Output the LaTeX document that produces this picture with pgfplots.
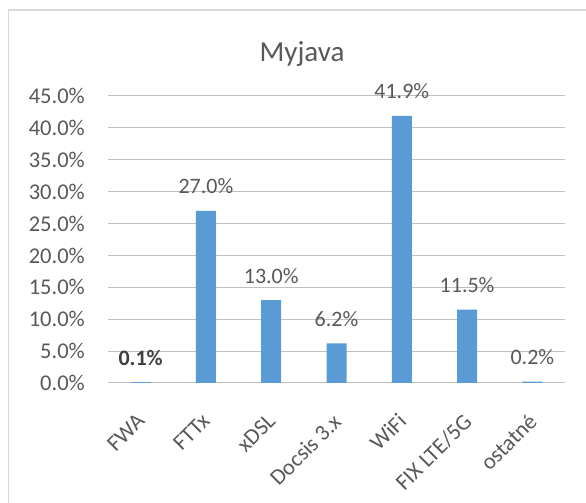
\documentclass[border=0pt]{standalone}
\usepackage{pgfplots}
\pgfplotsset{compat=1.18}
\usepackage{fontspec}
\setmainfont{Carlito}
\definecolor{txt}{HTML}{595959}
\definecolor{bar}{HTML}{5B9BD5}
\definecolor{grid}{HTML}{D9D9D9}
\definecolor{frame}{HTML}{D9D9D9}
\begin{document}
\begin{tikzpicture}[x=1pt,y=1pt]
\useasboundingbox (0,0) rectangle (586,503);
\fill[white] (0,0) rectangle (586,503);
\draw[frame, line width=1.2pt] (8.5,0) -- (8.5,493) -- (586,493);
\node[txt, font=\fontsize{29}{34}\selectfont, anchor=base] at (302,441) {Myjava};
\begin{axis}[
  at={(108pt,120pt)}, anchor=south west,
  scale only axis, width=457pt, height=287pt,
  xmin=-0.5, xmax=6.5, ymin=0, ymax=45,
  ytick={0,5,...,45},
  xtick={0,...,6},
  xticklabels={FWA,FTTx,xDSL,Docsis 3.x,WiFi,FIX LTE/5G,ostatné},
  /pgf/number format/assume math mode=true,
  yticklabel={\pgfmathprintnumber[fixed,fixed zerofill,precision=1]{\tick}\%},
  yticklabel style={inner sep=0pt, anchor=east, xshift=-23pt},
  xticklabel style={xshift=-5pt, yshift=-29pt, rotate=45, anchor=north east, inner sep=0pt},
  ticklabel style={font=\fontsize{22.5}{26}\selectfont, text=txt},
  major tick length=0pt,
  tick style={draw=none},
  ymajorgrids, xmajorgrids=false, grid style={grid, line width=1pt},
  axis line style={draw=none},
  every node near coord/.append style={font=\fontsize{22}{26}\selectfont, text=txt, anchor=base, yshift=17pt, inner sep=0pt},
  nodes near coords={\pgfmathprintnumber[fixed,fixed zerofill,precision=1]{\pgfplotspointmeta}\%},
  ybar, bar width=20pt, bar shift=0pt,
  clip=false,
]
\addplot[fill=bar, draw=none] coordinates {(1,27.0) (2,13.0) (3,6.2) (4,41.9) (5,11.5) (6,0.2)};
\addplot[fill=bar, draw=none, every node near coord/.append style={text=black!75, font=\fontsize{22}{26}\selectfont\bfseries}] coordinates {(0,0.1)};
\end{axis}
\end{tikzpicture}
\end{document}
